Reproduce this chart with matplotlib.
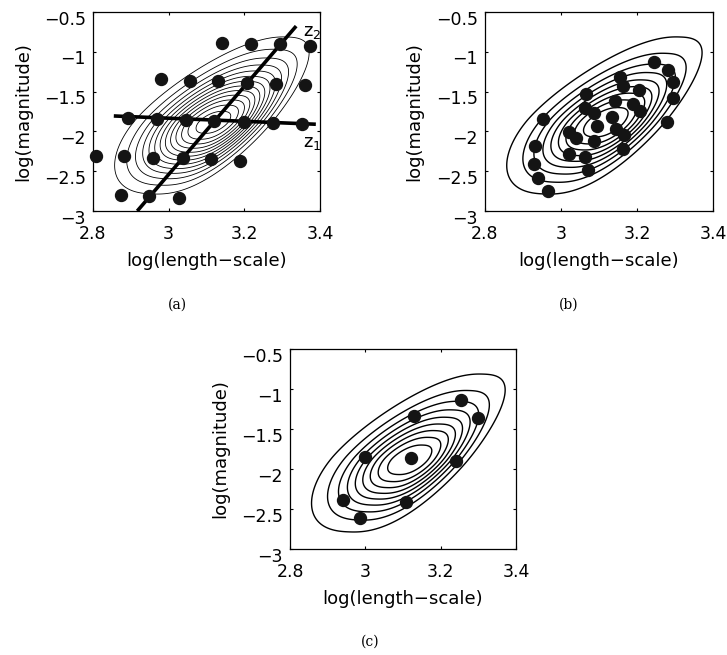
import numpy as np
import matplotlib
matplotlib.use("Agg")
import matplotlib.pyplot as plt
from matplotlib.transforms import ScaledTranslation

plt.rcParams.update({
    "font.family": ["DejaVu Sans"],
    "mathtext.fontset": "dejavusans",
    "mathtext.default": "regular",
})

# ---------------- data ----------------
x_ticks = [2.8, 3.0, 3.2, 3.4]
x_tick_labels = ["2.8", "3", "3.2", "3.4"]
y_ticks = [-3.0, -2.5, -2.0, -1.5, -1.0, -0.5]
y_tick_labels = ["\u22123", "\u22122.5", "\u22122", "\u22121.5", "\u22121", "\u22120.5"]
x_label = "log(length\u2212scale)"
y_label = "log(magnitude)"
captions = ["(a)", "(b)", "(c)"]

# posterior mode and principal directions (z1, z2)
mode = (3.119, -1.888)
z1_dir = (0.0765, -0.0132)
z2_dir = (0.0868, 0.48)
# shape of posterior in (z1, z2) coordinates
s_coef, s_pow, s_skew = 0.67, 2.4, 0.07
t_coef, t_pow, t_skew = 1.243, 1.85, 0.0436

levels_a = [0.10, 0.17, 0.24, 0.31, 0.38, 0.45, 0.52, 0.59, 0.66, 0.73, 0.80, 0.87, 0.94]
levels_bc = [0.1, 0.2, 0.3, 0.4, 0.5, 0.6, 0.7, 0.8, 0.9]

# (a) grid points
a_x = [3.142, 3.218, 3.295, 3.373,
       2.980, 3.056, 3.131, 3.208, 3.285, 3.361,
       2.893, 2.969, 3.046, 3.121, 3.199, 3.277, 3.352,
       2.807, 2.882, 2.959, 3.037, 3.113, 3.189,
       2.873, 2.949, 3.026]
a_y = [-0.886, -0.899, -0.903, -0.926,
       -1.346, -1.363, -1.373, -1.386, -1.400, -1.412,
       -1.826, -1.839, -1.852, -1.864, -1.878, -1.891, -1.905,
       -2.303, -2.315, -2.328, -2.338, -2.352, -2.371,
       -2.800, -2.814, -2.831]
z1_line_x = [2.855, 3.389]
z1_line_y = [-1.806, -1.910]
z2_line_x = [2.917, 3.337]
z2_line_y = [-3.0, -0.677]

# (b) samples
b_x = [3.245, 3.282, 3.296, 3.154, 3.162, 3.206, 3.296, 3.066, 3.143, 3.190,
       3.209, 3.063, 3.087, 3.134, 2.952, 3.096, 3.279, 3.145, 3.167, 3.022,
       3.039, 3.086, 2.932, 3.162, 3.022, 3.064, 2.930, 3.070, 2.939, 2.967]
b_y = [-1.125, -1.233, -1.375, -1.312, -1.425, -1.483, -1.583, -1.525, -1.617, -1.658,
       -1.742, -1.700, -1.775, -1.817, -1.846, -1.929, -1.888, -1.967, -2.050, -2.008,
       -2.083, -2.125, -2.179, -2.221, -2.279, -2.325, -2.404, -2.483, -2.583, -2.746]

# (c) CCD points
c_x = [3.254, 3.300, 3.130, 3.120, 3.000, 3.240, 2.940, 3.108, 2.985]
c_y = [-1.133, -1.367, -1.333, -1.867, -1.854, -1.896, -2.383, -2.413, -2.617]


def posterior(x, y):
    dx = x - mode[0]
    dy = y - mode[1]
    det = z1_dir[0] * z2_dir[1] - z2_dir[0] * z1_dir[1]
    s = (z2_dir[1] * dx - z2_dir[0] * dy) / det
    t = (z1_dir[0] * dy - z1_dir[1] * dx) / det
    gs = np.abs(s * np.exp(s_skew * s))
    gt = np.abs(t * np.exp(-t_skew * t))
    q = s_coef * gs ** s_pow + t_coef * gt ** t_pow
    return np.exp(-0.5 * q)


gx = np.linspace(2.75, 3.45, 600)
gy = np.linspace(-3.1, -0.4, 600)
GX, GY = np.meshgrid(gx, gy)
P = posterior(GX, GY)

W, H = 727, 655
fig = plt.figure(figsize=(W / 100, H / 100), dpi=100)
ax_a = fig.add_axes([93 / W, 1 - 211 / H, 227 / W, 199 / H])
ax_b = fig.add_axes([485 / W, 1 - 211 / H, 228 / W, 199 / H])
ax_c = fig.add_axes([290 / W, 1 - 549 / H, 226 / W, 200 / H])

dot = dict(ls="none", marker="o", ms=8.6, color="#141414", mec="#141414",
           clip_on=False, zorder=5)

for ax in (ax_a, ax_b, ax_c):
    ax.set_xlim(2.8, 3.4)
    ax.set_ylim(-3.0, -0.5)
    ax.set_xticks(x_ticks)
    ax.set_xticklabels(x_tick_labels)
    ax.set_yticks(y_ticks)
    ax.set_yticklabels(y_tick_labels)
    ax.tick_params(direction="in", top=True, right=True, length=2.2, width=0.8,
                   labelsize=12.5, colors="black")
    ax.tick_params(axis="x", pad=10)
    ax.tick_params(axis="y", pad=5.3)
    for sp in ax.spines.values():
        sp.set_linewidth(0.9)
    off = ScaledTranslation(0, -4 / 72, fig.dpi_scale_trans)
    for lab in ax.get_yticklabels():
        lab.set_transform(lab.get_transform() + off)
    ax.set_xlabel(x_label, fontsize=13)
    ax.set_ylabel(y_label, fontsize=13)
    ax.xaxis.set_label_coords(0.5, -0.2075)
    ax.yaxis.set_label_coords(-0.2687, 0.5)

# (a)
ax_a.contour(GX, GY, P, levels=levels_a, colors="black", linewidths=0.6)
ax_a.plot(z1_line_x, z1_line_y, color="black", lw=2.6, solid_capstyle="butt", zorder=4)
ax_a.plot(z2_line_x, z2_line_y, color="black", lw=2.6, solid_capstyle="butt", zorder=4)
ax_a.plot(a_x, a_y, **dot)
ax_a.text(3.355, -0.751, "$z_2$", fontsize=13, va="center", ha="left", clip_on=False)
ax_a.text(3.355, -2.146, "$z_1$", fontsize=13, va="center", ha="left", clip_on=False)

# (b)
ax_b.contour(GX, GY, P, levels=levels_bc, colors="black", linewidths=1.0)
ax_b.plot(b_x, b_y, **dot)

# (c)
ax_c.contour(GX, GY, P, levels=levels_bc, colors="black", linewidths=1.0)
ax_c.plot(c_x, c_y, **dot)

cap_pos = [(177, 305), (569, 305), (370, 642)]
for txt, (px, py) in zip(captions, cap_pos):
    fig.text(px / W, 1 - py / H, txt, family="DejaVu Serif", fontsize=10,
             ha="center", va="center")

fig.savefig("out.png", dpi=100)
